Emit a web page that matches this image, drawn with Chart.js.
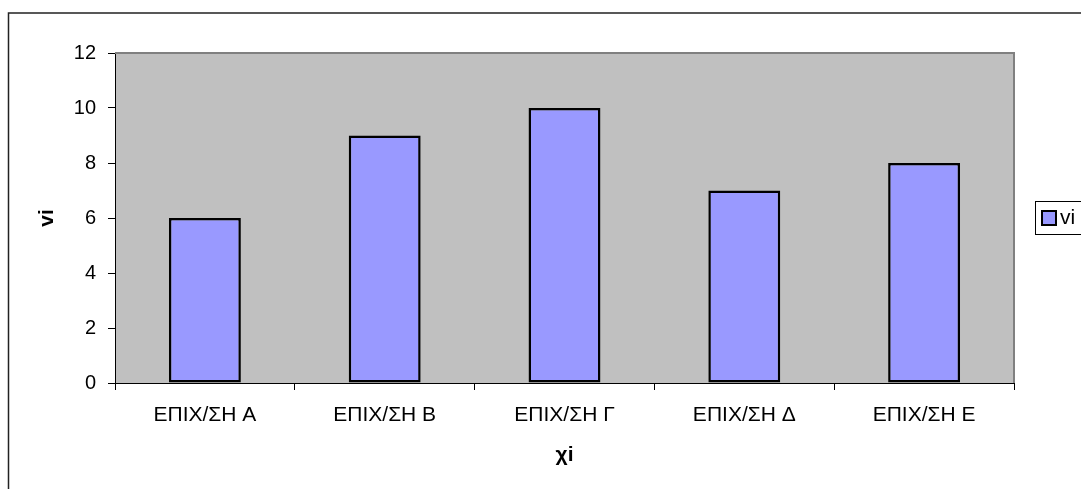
<!DOCTYPE html>
<html>
<head>
<meta charset="utf-8">
<title>vi ανά επιχείρηση</title>
<script src="https://cdn.jsdelivr.net/npm/chart.js@4.4.1/dist/chart.umd.min.js"></script>
<style>
  html, body { margin: 0; padding: 0; background: #ffffff; }
  #wrap { position: relative; width: 1081px; height: 489px; }
</style>
</head>
<body>
<div id="wrap"><canvas id="c" width="1081" height="489"></canvas></div>
<script>
// Categories (companies) and their frequencies vi
const categories = ['ΕΠΙΧ/ΣΗ Α', 'ΕΠΙΧ/ΣΗ Β', 'ΕΠΙΧ/ΣΗ Γ', 'ΕΠΙΧ/ΣΗ Δ', 'ΕΠΙΧ/ΣΗ Ε'];
const viValues = [6, 9, 10, 7, 8];
const seriesName = 'vi';
const xTitle = 'χi';
const yTitle = 'vi';
const yTicks = [0, 2, 4, 6, 8, 10, 12];

const FONT = 'Liberation Sans, Arial, sans-serif';
const BAR_FILL = '#9999ff';
const PLOT_BG = '#c0c0c0';

// Page frame, plot background and plot-area edges
const framePlugin = {
  id: 'frame',
  beforeDraw(chart) {
    const ctx = chart.ctx;
    const a = chart.chartArea;
    ctx.save();
    ctx.fillStyle = '#ffffff';
    ctx.fillRect(0, 0, chart.width, chart.height);
    // outer frame
    ctx.strokeStyle = '#222222';
    ctx.lineWidth = 1.5;
    ctx.beginPath();
    ctx.moveTo(8.5, chart.height + 2);
    ctx.lineTo(8.5, 13);
    ctx.lineTo(chart.width + 2, 13);
    ctx.stroke();
    // plot area
    ctx.fillStyle = PLOT_BG;
    ctx.fillRect(a.left, a.top, a.right - a.left, a.bottom - a.top);
    ctx.restore();
  },
  afterDatasetsDraw(chart) {
    const ctx = chart.ctx;
    const a = chart.chartArea;
    ctx.save();
    ctx.strokeStyle = '#808080';
    ctx.lineWidth = 2;
    ctx.beginPath();
    ctx.moveTo(a.left, a.top);
    ctx.lineTo(a.right, a.top);
    ctx.lineTo(a.right, a.bottom);
    ctx.stroke();
    ctx.restore();
  }
};

// Boxed legend to the right of the plot
const boxLegend = {
  id: 'boxLegend',
  afterDraw(chart) {
    const ctx = chart.ctx;
    const ds = chart.data.datasets[0];
    ctx.save();
    ctx.fillStyle = '#ffffff';
    ctx.fillRect(1035, 201, 60, 33);
    ctx.strokeStyle = '#000000';
    ctx.lineWidth = 1;
    ctx.strokeRect(1035.5, 201.5, 60, 33);
    ctx.fillStyle = ds.backgroundColor;
    ctx.fillRect(1042, 211, 14, 14);
    ctx.lineWidth = 2;
    ctx.strokeRect(1042, 211, 14, 14);
    ctx.fillStyle = '#000000';
    ctx.font = '21px ' + FONT;
    ctx.textBaseline = 'middle';
    ctx.textAlign = 'left';
    ctx.fillText(ds.label, 1060, 218);
    ctx.restore();
  }
};

new Chart(document.getElementById('c'), {
  type: 'bar',
  data: {
    labels: categories,
    datasets: [{
      label: seriesName,
      data: viValues,
      backgroundColor: BAR_FILL,
      borderColor: '#000000',
      borderWidth: 2.5,
      borderSkipped: false,
      barPercentage: 1.0,
      categoryPercentage: 0.4
    }]
  },
  options: {
    responsive: false,
    animation: false,
    devicePixelRatio: 1,
    layout: { padding: { top: 53, right: 67, left: 0, bottom: 0 } },
    plugins: {
      legend: { display: false },
      tooltip: { enabled: false },
      title: { display: false }
    },
    scales: {
      x: {
        offset: true,
        grid: {
          offset: true,
          drawOnChartArea: false,
          drawTicks: true,
          tickLength: 7,
          color: '#000000'
        },
        border: { display: true, color: '#000000', width: 1 },
        ticks: {
          color: '#000000',
          font: { family: FONT, size: 21 },
          padding: 13,
          maxRotation: 0,
          autoSkip: false
        },
        title: {
          display: true,
          text: xTitle,
          color: '#000000',
          font: { family: FONT, size: 21, weight: 'bold' },
          padding: { top: 0, bottom: 21 }
        },
        afterFit(scale) { scale.height = 106; }
      },
      y: {
        min: 0,
        max: 12,
        afterBuildTicks(scale) { scale.ticks = yTicks.map(v => ({ value: v })); },
        grid: {
          drawOnChartArea: false,
          drawTicks: true,
          tickLength: 7,
          color: '#000000'
        },
        border: { display: true, color: '#000000', width: 1 },
        ticks: {
          color: '#000000',
          font: { family: FONT, size: 20 },
          padding: 12
        },
        title: {
          display: true,
          text: yTitle,
          color: '#000000',
          font: { family: FONT, size: 21, weight: 'bold' },
          padding: { top: 35, bottom: 0 }
        },
        afterFit(scale) { scale.width = 115; }
      }
    }
  },
  plugins: [framePlugin, boxLegend]
});
</script>
</body>
</html>
